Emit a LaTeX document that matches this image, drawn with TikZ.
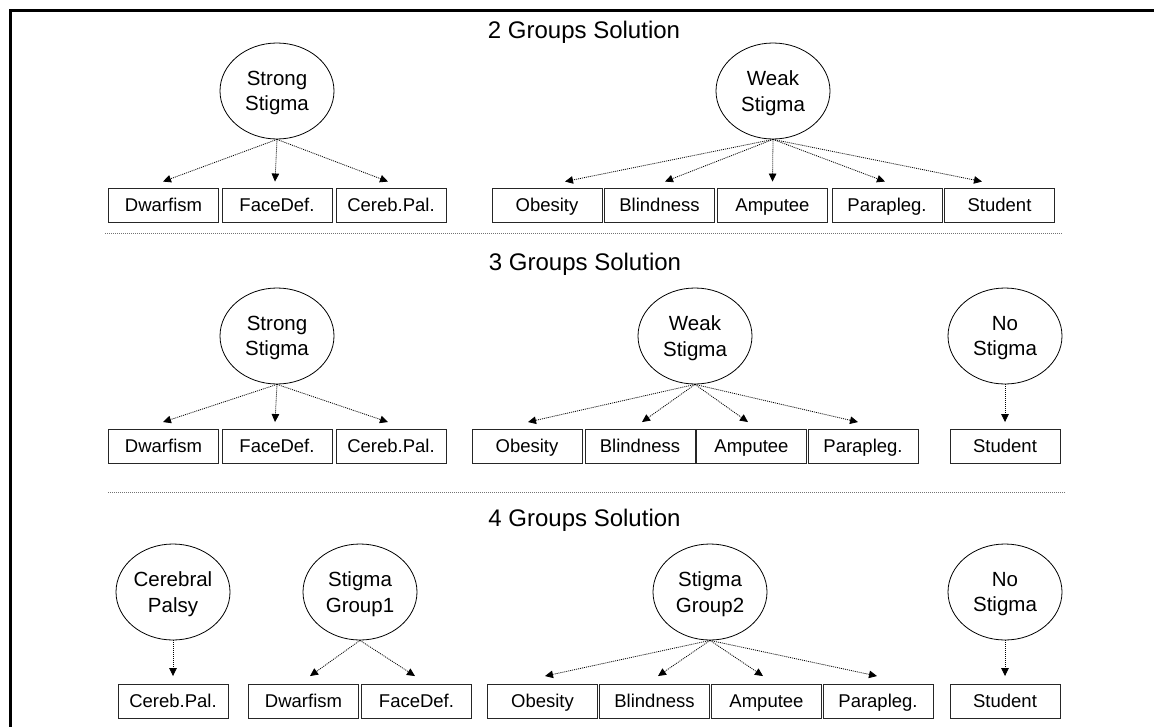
\documentclass[tikz,border=0pt]{standalone}
\usepackage{fontspec}
\setmainfont{Liberation Sans}
\usetikzlibrary{shapes.geometric,arrows.meta}
\begin{document}
\begin{tikzpicture}[x=1pt,y=-1pt,
  title/.style={font=\fontsize{24}{29}\selectfont, inner sep=0pt, text height=17pt, text depth=0pt},
  latent/.style={ellipse, draw=black, line width=0.8pt, minimum width=114pt, minimum height=96pt, inner sep=0pt, align=center, text depth=0pt, font=\fontsize{20.5}{25.6}\selectfont},
  item/.style={rectangle, draw=black!85, line width=0.9pt, minimum width=110pt, minimum height=34pt, inner sep=0pt, text height=13.5pt, text depth=1.5pt, font=\fontsize{18.5}{22}\selectfont},
  arr/.style={line width=0.8pt, dash pattern=on 1pt off 1pt, -{Triangle[length=8pt,width=7.5pt]}},
  sep/.style={black!55, line width=0.8pt, dash pattern=on 1pt off 1pt}]
\useasboundingbox (0,0) rectangle (1154,726);
\fill[white] (0,0) rectangle (1154,726);
\clip (0,0) rectangle (1154,726);
% frame
\coordinate (fa) at (1170,10.5);
\coordinate (fb) at (10.5,10.5);
\coordinate (fc) at (10.5,740);
\draw[line width=3pt] (fa) -- (fb) -- (fc);

% ---------- 2 groups ----------
\node[title] (t2) at (584,30) {2 Groups Solution};
\node[latent] (ss1) at (277,91) {Strong\\Stigma};
\node[latent] (ws1) at (773,91) {Weak\\Stigma};
\node[item] (dw1) at (163.5,205) {Dwarfism};
\node[item] (fd1) at (277,205) {FaceDef.};
\node[item] (cp1) at (391,205) {Cereb.Pal.};
\node[item] (ob1) at (547,205) {Obesity};
\node[item] (bl1) at (659.5,205) {Blindness};
\node[item] (am1) at (772.5,205) {Amputee};
\node[item] (pa1) at (887,205) {Parapleg.};
\node[item] (st1) at (999.5,205) {Student};
\draw[arr] (ss1.south) -- ([xshift=-0.5pt,yshift=6pt]dw1.north);
\draw[arr] (ss1.south) -- ([xshift=-2pt,yshift=6pt]fd1.north);
\draw[arr] (ss1.south) -- ([xshift=-3pt,yshift=6pt]cp1.north);
\draw[arr] (ws1.south) -- ([xshift=18pt,yshift=6pt]ob1.north);
\draw[arr] (ws1.south) -- ([xshift=5.5pt,yshift=6pt]bl1.north);
\draw[arr] (ws1.south) -- ([xshift=0pt,yshift=6pt]am1.north);
\draw[arr] (ws1.south) -- ([xshift=-2pt,yshift=6pt]pa1.north);
\draw[arr] (ws1.south) -- ([xshift=-17.5pt,yshift=6pt]st1.north);

\coordinate (s1a) at (105,233);
\coordinate (s1b) at (1063,233);
\draw[sep] (s1a) -- (s1b);

% ---------- 3 groups ----------
\node[title] (t3) at (585,262) {3 Groups Solution};
\node[latent] (ss2) at (277,336) {Strong\\Stigma};
\node[latent] (ws2) at (695,336) {Weak\\Stigma};
\node[latent] (ns2) at (1005,336) {No\\Stigma};
\node[item] (dw2) at (163.5,446.5) {Dwarfism};
\node[item] (fd2) at (277,446.5) {FaceDef.};
\node[item] (cp2) at (391,446.5) {Cereb.Pal.};
\node[item] (ob2) at (527,446.5) {Obesity};
\node[item] (bl2) at (640,446.5) {Blindness};
\node[item] (am2) at (751.5,446.5) {Amputee};
\node[item] (pa2) at (863,446.5) {Parapleg.};
\node[item] (st2) at (1005,446.5) {Student};
\draw[arr] (ss2.south) -- ([xshift=-0.5pt,yshift=7pt]dw2.north);
\draw[arr] (ss2.south) -- ([xshift=-2pt,yshift=7pt]fd2.north);
\draw[arr] (ss2.south) -- ([xshift=-3pt,yshift=7pt]cp2.north);
\draw[arr] (ws2.south) -- ([xshift=1pt,yshift=7pt]ob2.north);
\draw[arr] (ws2.south) -- ([xshift=2pt,yshift=7pt]bl2.north);
\draw[arr] (ws2.south) -- ([xshift=-3.5pt,yshift=7pt]am2.north);
\draw[arr] (ws2.south) -- ([xshift=-5pt,yshift=7pt]pa2.north);
\draw[arr] (ns2.south) -- ([yshift=7pt]st2.north);

\coordinate (s2a) at (108,492);
\coordinate (s2b) at (1066,492);
\draw[sep] (s2a) -- (s2b);

% ---------- 4 groups ----------
\node[title] (t4) at (584.5,518) {4 Groups Solution};
\node[latent] (cpl) at (173,592) {Cerebral\\Palsy};
\node[latent] (sg1) at (360,592) {Stigma\\Group1};
\node[latent] (sg2) at (710,592) {Stigma\\Group2};
\node[latent] (ns3) at (1005,592) {No\\Stigma};
\node[item] (cp3) at (173,701.5) {Cereb.Pal.};
\node[item] (dw3) at (303.5,701.5) {Dwarfism};
\node[item] (fd3) at (416.5,701.5) {FaceDef.};
\node[item] (ob3) at (542.5,701.5) {Obesity};
\node[item] (bl3) at (654.5,701.5) {Blindness};
\node[item] (am3) at (766.5,701.5) {Amputee};
\node[item] (pa3) at (878,701.5) {Parapleg.};
\node[item] (st3) at (1005,701.5) {Student};
\draw[arr] (cpl.south) -- ([yshift=8pt]cp3.north);
\draw[arr] (sg1.south) -- ([xshift=6.5pt,yshift=8pt]dw3.north);
\draw[arr] (sg1.south) -- ([xshift=-1.5pt,yshift=8pt]fd3.north);
\draw[arr] (sg2.south) -- ([xshift=2.5pt,yshift=8pt]ob3.north);
\draw[arr] (sg2.south) -- ([xshift=3.5pt,yshift=8pt]bl3.north);
\draw[arr] (sg2.south) -- ([xshift=-3.5pt,yshift=8pt]am3.north);
\draw[arr] (sg2.south) -- ([xshift=-1pt,yshift=8pt]pa3.north);
\draw[arr] (ns3.south) -- ([yshift=8pt]st3.north);
\end{tikzpicture}
\end{document}
